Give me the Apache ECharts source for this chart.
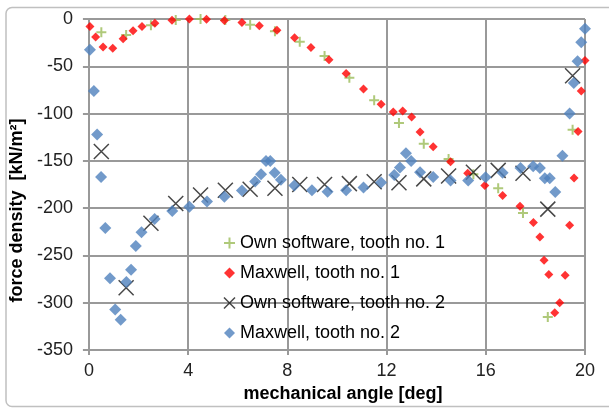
<!DOCTYPE html>
<html>
<head>
<meta charset="utf-8">
<script src="https://cdn.jsdelivr.net/npm/echarts@6/dist/echarts.min.js"></script>
<style>
html,body{margin:0;padding:0;background:#fff;}
#c{width:609px;height:408px;}
</style>
</head>
<body>
<div id="c"></div>
<script>
// ---- data ----
var seriesNames = ['Own software, tooth no. 1', 'Maxwell, tooth no. 1', 'Own software, tooth no. 2', 'Maxwell, tooth no. 2'];
var xTicks = [0, 4, 8, 12, 16, 20];
var yTicks = [0, -50, -100, -150, -200, -250, -300, -350];

var ownX = [0.5,1.5,2.5,3.5,4.5,5.5,6.5,7.5,8.5,9.5,10.5,11.5,12.5,13.5,14.5,15.5,16.5,17.5,18.5,19.5];
var own1Y = [-14,-17,-6.5,-1,0,-1,-6,-13,-24,-39,-62,-86,-110,-132,-148,-164,-179,-205,-315,-117];
var own2Y = [-140,-284,-216,-195,-186,-181,-180,-179,-175,-175,-174,-172,-173,-169,-166,-162,-160,-163,-201,-60];

var max1X = [0.04,0.27,0.57,0.96,1.38,1.78,2.14,2.66,3.35,4.05,4.74,5.46,6.17,6.87,7.58,8.29,8.95,9.68,10.37,11.07,11.78,12.27,12.65,13.01,13.35,13.88,14.58,15.27,15.96,16.68,17.38,17.92,18.18,18.35,18.54,18.78,18.98,19.2,19.38,19.56,19.72,19.85,20];
var max1Y = [-8,-19,-29.5,-31,-21,-12.5,-8,-4.4,-1.3,0,-0.3,-1.7,-3.8,-7.2,-12,-19.8,-30,-43,-57.7,-74,-90,-98.4,-97.3,-103.5,-119.5,-135,-151,-163,-176,-186.5,-198,-215,-230.5,-255,-270,-310.5,-300,-271,-218,-168,-119,-76,-44];

var max2X = [0.04,0.2,0.33,0.49,0.66,0.85,1.06,1.28,1.51,1.7,1.89,2.12,2.65,3.36,4.05,4.76,5.46,6.17,6.7,6.94,7.14,7.31,7.49,7.74,8.28,8.99,9.62,10.37,11.07,11.78,12.31,12.54,12.78,12.99,13.35,13.88,14.58,15.29,15.99,16.68,17.4,17.91,18.18,18.38,18.58,18.8,19.09,19.38,19.55,19.7,19.85,20];
var max2Y = [-32.5,-76,-122,-167,-221,-274,-307,-318,-278,-265,-240,-225.5,-211.5,-203,-198.4,-193,-188,-181.4,-171.8,-164,-150,-150,-162.6,-170,-176,-181,-182.7,-181,-178,-172.8,-165,-157,-142,-150,-162,-167,-170.8,-170.8,-167.3,-162.6,-157.5,-155.7,-157.5,-168.4,-168.4,-183,-144.5,-100,-67.6,-44.7,-24.5,-10.2];

function pairs(xs, ys){ return xs.map(function(x,i){ return [x, ys[i]]; }); }

var FONT = '"Liberation Sans", Arial, sans-serif';
var PLUS = 'path://M0,5L10,5M5,0L5,10';
var CROSS = 'path://M0,0L10,10M10,0L0,10';
var GREEN = '#9BBB59', RED = '#FF0000', BLACK = '#1a1a1a', BLUE = '#4F81BD';
var GRID = '#999999';

var chart = echarts.init(document.getElementById('c'), null, {renderer:'canvas'});
chart.setOption({
  animation: false,
  backgroundColor: '#fff',
  textStyle: {fontFamily: FONT},
  graphic: [{
    type: 'rect', silent: true, z: -1,
    shape: {x: 6, y: 7.5, width: 640, height: 399, r: 6},
    style: {fill: 'none', stroke: '#c0c0c0', lineWidth: 1.5}
  }],
  grid: {left: 88, right: 24, top: 19, bottom: 47, containLabel: false},
  legend: {
    orient: 'vertical', left: 223, top: 234, padding: 0,
    itemWidth: 11, itemHeight: 11, itemGap: 12,
    textStyle: {fontFamily: FONT, fontSize: 18, color: '#000', lineHeight: 18},
    data: [
      {name: seriesNames[0], icon: PLUS, itemStyle: {color: 'transparent', borderColor: GREEN, borderWidth: 2}},
      {name: seriesNames[1], icon: 'diamond', itemStyle: {color: RED, borderWidth: 0}},
      {name: seriesNames[2], icon: CROSS, itemStyle: {color: 'transparent', borderColor: BLACK, borderWidth: 1.5}},
      {name: seriesNames[3], icon: 'diamond', itemStyle: {color: BLUE, borderWidth: 0}}
    ]
  },
  xAxis: {
    type: 'value', min: xTicks[0], max: xTicks[xTicks.length-1], interval: 4,
    name: 'mechanical angle [deg]', nameLocation: 'middle', nameGap: 22,
    nameTextStyle: {fontFamily: FONT, fontSize: 18, fontWeight: 'bold', color: '#000', padding: [0,0,0,12]},
    axisLine: {show: true, onZero: false, lineStyle: {color: GRID, width: 2}},
    axisTick: {show: true, inside: false, length: 5, lineStyle: {color: GRID, width: 2}},
    axisLabel: {fontFamily: FONT, fontSize: 18, color: '#222', margin: 12},
    splitLine: {show: true, lineStyle: {color: GRID, width: 2}}
  },
  yAxis: {
    type: 'value', min: yTicks[yTicks.length-1], max: yTicks[0], interval: 50,
    name: 'force density  [kN/m²]', nameLocation: 'middle', nameGap: 53, nameRotate: 90,
    nameTextStyle: {fontFamily: FONT, fontSize: 18, fontWeight: 'bold', color: '#000', padding: [0,52,0,0]},
    axisLine: {show: true, onZero: false, lineStyle: {color: GRID, width: 2}},
    axisTick: {show: true, inside: false, length: 6, lineStyle: {color: GRID, width: 2}},
    axisLabel: {fontFamily: FONT, fontSize: 18, color: '#222', margin: 16},
    splitLine: {show: true, lineStyle: {color: GRID, width: 2}}
  },
  series: [
    {name: seriesNames[0], type: 'scatter', symbol: PLUS, symbolSize: 10,
     itemStyle: {color: 'transparent', borderColor: GREEN, borderWidth: 2},
     data: pairs(ownX, own1Y)},
    {name: seriesNames[1], type: 'scatter', symbol: 'diamond', symbolSize: 9,
     itemStyle: {color: RED, borderWidth: 0},
     data: pairs(max1X, max1Y)},
    {name: seriesNames[2], type: 'scatter', symbol: CROSS, symbolSize: 15,
     itemStyle: {color: 'transparent', borderColor: BLACK, borderWidth: 1.5},
     data: pairs(ownX, own2Y)},
    {name: seriesNames[3], type: 'scatter', symbol: 'diamond', symbolSize: 12,
     itemStyle: {color: BLUE, borderWidth: 0},
     data: pairs(max2X, max2Y)}
  ]
});
</script>
</body>
</html>
